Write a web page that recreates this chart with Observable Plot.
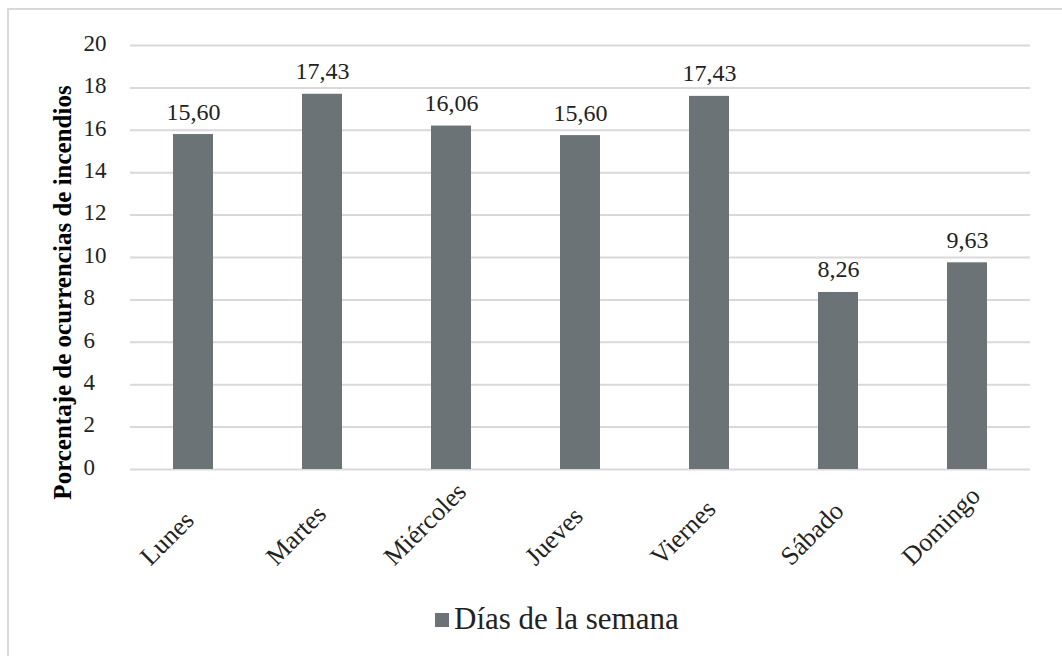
<!DOCTYPE html>
<html>
<head>
<meta charset="utf-8">
<script src="https://cdn.jsdelivr.net/npm/d3@7"></script>
<script src="https://cdn.jsdelivr.net/npm/@observablehq/plot@0.6"></script>
<style>
  html, body { margin: 0; padding: 0; background: #ffffff; }
  #wrap { position: relative; width: 1062px; height: 656px; overflow: hidden; font-family: "Liberation Serif", "Times New Roman", serif; }
  #frame { position: absolute; left: 7px; top: 8px; width: 1200px; height: 800px; border: 2px solid #d9d9d9; box-sizing: border-box; }
  #chart { position: absolute; left: 0; top: 0; }
  #legend { position: absolute; left: 435px; top: 603px; font-size: 31px; line-height: 31px; color: #222; white-space: nowrap; }
  #legend .sw { display: inline-block; width: 14px; height: 14px; background: #6c7376; margin-right: 5px; vertical-align: 2px; }
</style>
</head>
<body>
<div id="wrap">
  <div id="frame"></div>
  <div id="chart"></div>
  <div id="legend"></div>
</div>
<script>
// ---- data ----
const days = ["Lunes", "Martes", "Miércoles", "Jueves", "Viernes", "Sábado", "Domingo"];
const barHeights = [15.8, 17.7, 16.2, 15.75, 17.6, 8.35, 9.75];
const valueLabels = ["15,60", "17,43", "16,06", "15,60", "17,43", "8,26", "9,63"];
const yTicks = [0, 2, 4, 6, 8, 10, 12, 14, 16, 18, 20];
const yTitle = "Porcentaje de ocurrencias de incendios";
const seriesName = "Días de la semana";

const table = days.map((d, i) => ({day: d, value: barHeights[i], label: valueLabels[i]}));

const barColor = "#6c7376";
const gridColor = "#d9d9d9";
const textColor = "#222";
const fontStack = "'Liberation Serif', 'Times New Roman', serif";

const chart = Plot.plot({
  width: 1062,
  height: 600,
  marginTop: 45,
  marginBottom: 131,
  marginLeft: 130,
  marginRight: 32,
  style: {fontFamily: fontStack, background: "transparent", overflow: "visible"},
  x: {domain: days, paddingInner: 0.69, paddingOuter: 0.31, label: null},
  y: {domain: [0, 20], label: null},
  marks: [
    Plot.ruleY(yTicks, {stroke: gridColor, strokeWidth: 2}),
    Plot.barY(table, {x: "day", y: "value", fill: barColor}),
    Plot.text(table, {x: "day", y: "value", text: "label", dy: -15, lineAnchor: "bottom", fontSize: 24, fill: textColor}),
    Plot.axisY({ticks: yTicks, tickSize: 0, tickPadding: 47, textAnchor: "start", fontSize: 23, fill: textColor, dy: -2, label: null}),
    Plot.axisX({tickSize: 0, tickRotate: -45, fontSize: 26, fill: textColor, label: null}),
    Plot.text([yTitle], {text: d => d, frameAnchor: "left", rotate: -90, dx: -68, dy: 35, fontSize: 25, fontWeight: "bold", fill: "#000", textAnchor: "middle", lineAnchor: "middle"})
  ]
});

chart.querySelectorAll("text").forEach(t => t.style.fontFamily = fontStack);

document.getElementById("chart").appendChild(chart);

// Legend (HTML, below the SVG)
document.getElementById("legend").innerHTML = `<span class="sw"></span>${seriesName}`;

// Align rotated category labels: bottom-aligned, centered relative to each category
const xs = chart.scale("x");
const svgRect = chart.getBoundingClientRect();
const tickTexts = chart.querySelectorAll('g[aria-label="x-axis tick label"] text');
tickTexts.forEach((t, i) => {
  const name = days[i];
  const cx = xs.apply(name) + xs.bandwidth / 2 - 26;
  const r = t.getBoundingClientRect();
  const curCx = (r.left + r.right) / 2 - svgRect.left;
  const curBottom = r.bottom - svgRect.top;
  const ddx = cx - curCx;
  const ddy = 571 - curBottom;
  const tr = t.getAttribute("transform") || "";
  t.setAttribute("transform", `translate(${ddx},${ddy}) ${tr}`);
});
</script>
</body>
</html>
